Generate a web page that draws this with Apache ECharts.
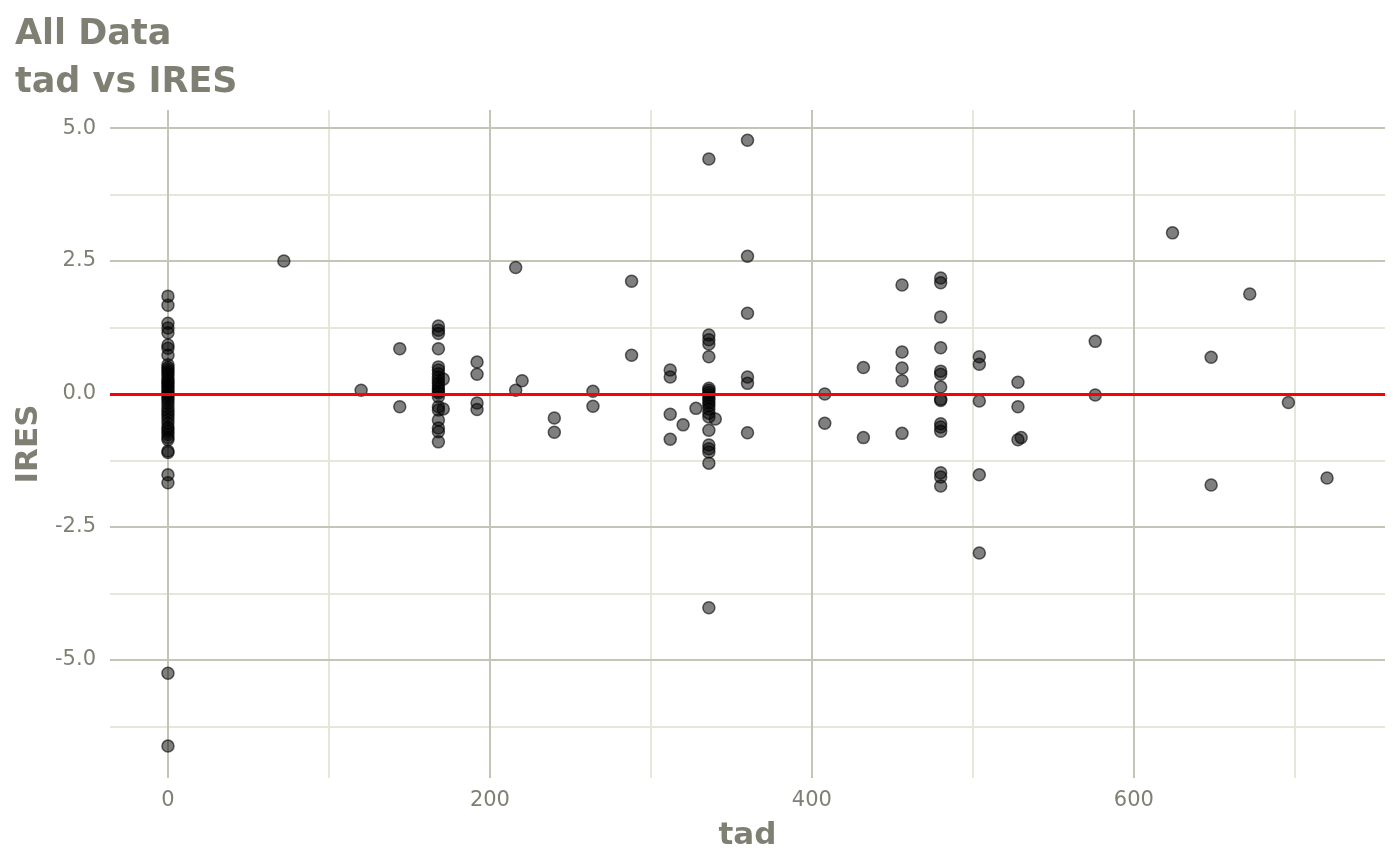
<!DOCTYPE html>
<html>
<head>
<meta charset="utf-8">
<script src="https://cdn.jsdelivr.net/npm/echarts@6/dist/echarts.min.js"></script>
<style>
    html, body, #main {
        width: 100%;
        height: 100%;
        margin: 0;
        background: #fff;
    }
</style>
</head>
<body>
<div id="main"></div>
<script>
    // tad / IRES pairs, one line per tad column
    var tad = [
        0, 0, 0, 0, 0, 0, 0, 0, 0, 0, 0, 0, 0, 0, 0, 0, 0, 0, 0, 0, 0, 0,
        0, 0, 0, 0, 0, 0, 0, 0, 0, 0, 0, 0, 0, 0, 0, 0, 0, 0, 0, 0, 0, 0,
        72, 120, 144, 144,
        168, 168, 168, 168, 168, 168, 168, 168, 168, 168, 168, 168, 168, 168, 168, 168, 168, 168, 168, 168, 168,
        171, 171,
        192, 192, 192, 192,
        216, 216, 220, 240, 240, 264, 264, 288, 288,
        312, 312, 312, 312, 320, 328,
        336, 336, 336, 336, 336, 336, 336, 336, 336, 336, 336, 336, 336, 336, 336, 336, 336, 336, 336, 336, 336, 336,
        340,
        360, 360, 360, 360, 360, 360,
        408, 408, 432, 432,
        456, 456, 456, 456, 456,
        480, 480, 480, 480, 480, 480, 480, 480, 480, 480, 480, 480, 480, 480, 480,
        504, 504, 504, 504, 504,
        528, 528, 528, 530,
        576, 576, 624, 648, 648, 672, 696, 720
    ];
    var ires = [
        1.84, 1.67, 1.33, 1.24, 1.15, 0.92, 0.86, 0.73, 0.55, 0.50, 0.46, 0.42, 0.38, 0.33, 0.28, 0.24, 0.20, 0.16, 0.12, 0.08, 0.04, 0.01,
        -0.03, -0.07, -0.12, -0.18, -0.25, -0.31, -0.36, -0.42, -0.48, -0.55, -0.62, -0.66, -0.71, -0.76, -0.82, -0.86, -1.07, -1.10, -1.52, -1.67, -5.25, -6.62,
        2.50, 0.07, 0.85, -0.24,
        1.28, 1.20, 1.14, 0.85, 0.51, 0.45, 0.38, 0.32, 0.26, 0.20, 0.15, 0.10, 0.05, 0.02, -0.05, -0.24, -0.30, -0.49, -0.64, -0.71, -0.90,
        0.28, -0.28,
        0.60, 0.37, -0.17, -0.29,
        2.38, 0.07, 0.25, -0.45, -0.72, 0.05, -0.23, 2.12, 0.73,
        0.45, 0.32, -0.38, -0.85, -0.58, -0.27,
        4.42, 1.11, 1.02, 0.94, 0.70, 0.11, 0.07, 0.03, -0.02, -0.07, -0.12, -0.17, -0.22, -0.28, -0.36, -0.43, -0.68, -0.96, -1.03, -1.09, -1.30, -4.02,
        -0.47,
        4.77, 2.59, 1.52, 0.32, 0.20, -0.73,
        0.00, -0.55, 0.50, -0.82,
        2.05, 0.79, 0.49, 0.25, -0.74,
        2.18, 2.09, 1.45, 0.87, 0.43, 0.37, 0.13, -0.10, -0.12, -0.56, -0.62, -0.70, -1.48, -1.56, -1.73,
        0.70, 0.56, -0.13, -1.52, -2.99,
        0.22, -0.24, -0.86, -0.82,
        0.99, -0.02, 3.03, 0.69, -1.71, 1.88, -0.16, -1.58
    ];

    var xMajor = [0, 200, 400, 600];
    var xMinor = [100, 300, 500, 700];
    var yMajor = [-5, -2.5, 0, 2.5, 5];
    var yMinor = [-6.25, -3.75, -1.25, 1.25, 3.75];

    var points = [];
    for (var i = 0; i < ires.length; i++) {
        points.push([tad[i], ires[i]]);
    }

    var textColor = '#7f7f73';
    var majorColor = '#c4c4b7';
    var minorColor = '#e6e6da';

    function gridLines(xs, ys, color) {
        var d = [];
        xs.forEach(function (v) { d.push({xAxis: v}); });
        ys.forEach(function (v) { d.push({yAxis: v}); });
        return {
            silent: true,
            symbol: 'none',
            z: 1,
            label: {show: false},
            emphasis: {disabled: true},
            lineStyle: {color: color, width: 2, type: 'solid', opacity: 1},
            data: d
        };
    }

    var chart = echarts.init(document.getElementById('main'));
    chart.setOption({
        animation: false,
        title: {
            text: 'All Data\ntad vs IRES',
            left: 15,
            top: 11,
            padding: 0,
            textStyle: {
                fontFamily: 'DejaVu Sans',
                fontWeight: 'bold',
                fontSize: 35,
                lineHeight: 48,
                color: textColor
            }
        },
        grid: {left: 110, right: 15, top: 110, bottom: 87},
        xAxis: {
            type: 'value',
            min: -36,
            max: 756,
            name: 'tad',
            nameLocation: 'middle',
            nameGap: 42,
            nameTextStyle: {fontFamily: 'DejaVu Sans', fontWeight: 'bold', fontSize: 31, color: textColor},
            axisLine: {show: false},
            axisTick: {show: true, customValues: xMajor, length: 7, lineStyle: {color: textColor, width: 2}},
            axisLabel: {customValues: xMajor, margin: 12, fontFamily: 'DejaVu Sans', fontSize: 21, color: textColor},
            splitLine: {show: false}
        },
        yAxis: {
            type: 'value',
            min: -7.22,
            max: 5.34,
            name: 'IRES',
            nameLocation: 'middle',
            nameGap: 62,
            nameTextStyle: {fontFamily: 'DejaVu Sans', fontWeight: 'bold', fontSize: 31, color: textColor},
            axisLine: {show: false},
            axisTick: {show: true, customValues: yMajor, length: 7, lineStyle: {color: textColor, width: 2}},
            axisLabel: {
                customValues: yMajor,
                margin: 14,
                fontFamily: 'DejaVu Sans',
                fontSize: 21,
                color: textColor,
                formatter: function (v) { return v.toFixed(1); }
            },
            splitLine: {show: false}
        },
        series: [
            {
                name: 'minor',
                type: 'scatter',
                data: [],
                markLine: gridLines(xMinor, yMinor, minorColor)
            },
            {
                name: 'major',
                type: 'scatter',
                data: [],
                markLine: gridLines(xMajor, yMajor, majorColor)
            },
            {
                name: 'IRES',
                type: 'scatter',
                z: 3,
                symbolSize: 12,
                itemStyle: {
                    color: 'rgba(0,0,0,0.5)',
                    borderColor: 'rgba(0,0,0,0.6)',
                    borderWidth: 1.5,
                    opacity: 1
                },
                data: points,
                markLine: {
                    silent: true,
                    symbol: 'none',
                    z: 5,
                    label: {show: false},
                    lineStyle: {color: '#ff0000', width: 3, type: 'solid', opacity: 1},
                    data: [{yAxis: 0}]
                }
            }
        ]
    });
</script>
</body>
</html>
